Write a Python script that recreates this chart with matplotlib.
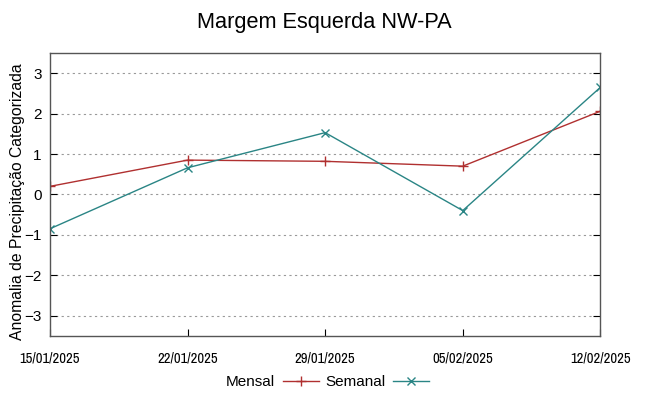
import pandas as pd
import matplotlib
matplotlib.use("Agg")
import matplotlib.pyplot as plt
import matplotlib.dates as mdates

datas = ["2025-01-15", "2025-01-22", "2025-01-29", "2025-02-05", "2025-02-12"]
mensal = [0.20, 0.85, 0.82, 0.70, 2.06]
semanal = [-0.85, 0.66, 1.53, -0.40, 2.65]
yticks = [-3, -2, -1, 0, 1, 2, 3]

plt.rcParams['font.family'] = ['Liberation Sans', 'DejaVu Sans']

if __name__ == '__main__':
	x = pd.to_datetime(datas)

	fig = plt.figure(figsize=(6.49, 3.96), dpi=100)
	ax = fig.add_axes([0.077, 0.152, 0.848, 0.714])

	ax.plot(x, mensal, color="#b03030", lw=1.0, marker="+", ms=7, mew=1.0, label="Mensal")
	ax.plot(x, semanal, color="#2a8585", lw=1.0, marker="x", ms=5.5, mew=1.0, label="Semanal")

	ax.set_xlim(x[0], x[-1])
	ax.set_ylim(-3.5, 3.5)
	ax.set_yticks(yticks)
	ax.set_xticks(x)
	ax.xaxis.set_major_formatter(mdates.DateFormatter("%d/%m/%Y"))
	ax.tick_params(axis='x', labelsize=10.5, labelfontfamily=['Archivo Narrow', 'Liberation Sans'])
	ax.tick_params(axis='y', labelsize=11, direction='in', right=True, length=5, pad=6)
	ax.tick_params(axis='x', direction='in', length=5, pad=11)
	ax.yaxis.grid(True, linestyle=(0, (2, 3)), color="#999999", lw=0.8)
	for s in ax.spines.values():
		s.set_color("#555555")
		s.set_linewidth(1.0)

	ax.set_ylabel("Anomalia de Precipitação Categorizada", fontsize=11.3)
	ax.yaxis.set_label_coords(-0.045, 0.475)
	fig.suptitle("Margem Esquerda NW-PA", fontsize=15.7, y=0.97)

	fig.legend(loc="center", bbox_to_anchor=(0.505, 0.035), ncol=2, frameon=False,
		markerfirst=False, fontsize=11, handlelength=2.35, columnspacing=0.45, handletextpad=0.5)

	fig.savefig("out.png", dpi=100)
